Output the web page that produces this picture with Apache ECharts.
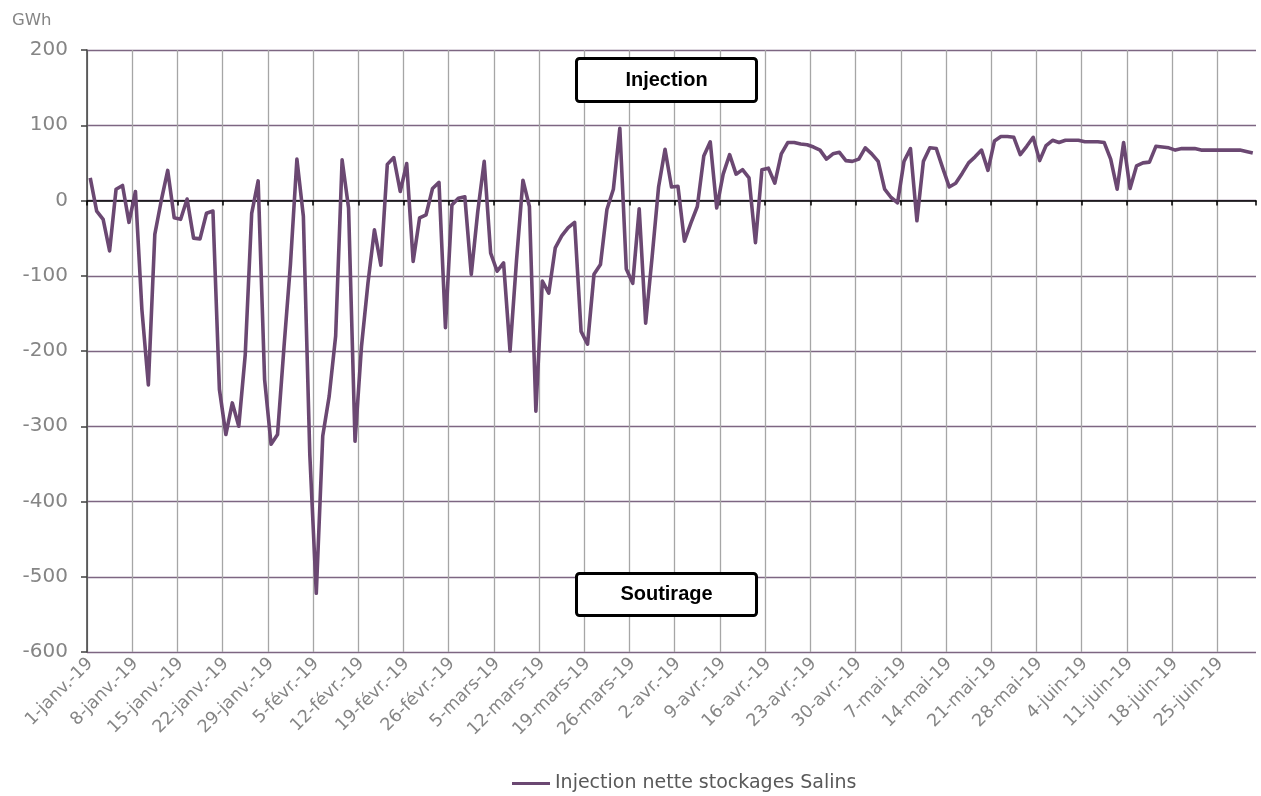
<!DOCTYPE html>
<html>
<head>
<meta charset="utf-8">
<script src="https://cdn.jsdelivr.net/npm/echarts@6/dist/echarts.min.js"></script>
<style>
  html, body { margin: 0; padding: 0; background: #fff; }
  #chart { width: 1261px; height: 796px; }
</style>
</head>
<body>
<div id="chart"></div>
<script>
// Daily calendar, 1 Jan 2019 - 30 Jun 2019
const monthNames = ['janv.', 'févr.', 'mars', 'avr.', 'mai', 'juin'];
const monthDays = [31, 28, 31, 30, 31, 30];
const yearSuffix = '19';

// Net injection into the Salins storage sites, GWh per day
const injectionNette = [
  30, -14, -25, -67, 15, 20, -29, 12, -145, -245,
  -45, 0, 40, -23, -25, 2, -50, -51, -17, -14,
  -251, -311, -269, -300, -205, -17, 26, -238, -324, -311,
  -195, -85, 55, -21, -338, -522, -313, -260, -180, 54,
  -10, -320, -194, -110, -39, -86, 48, 57, 12, 49,
  -81, -23, -19, 16, 24, -169, -6, 3, 5, -98,
  -15, 52, -70, -94, -83, -200, -80, 27, -8, -280,
  -107, -123, -63, -47, -36, -29, -174, -191, -98, -85,
  -12, 15, 96, -91, -110, -11, -163, -75, 18, 68,
  18, 19, -54, -30, -8, 59, 78, -10, 35, 61,
  35, 41, 30, -56, 41, 43, 23, 62, 77, 77,
  75, 74, 71, 67, 55, 62, 64, 53, 52, 55,
  70, 62, 52, 15, 4, -3, 52, 69, -27, 52,
  70, 69, 43, 18, 23, 36, 50, 58, 67, 40,
  79, 85, 85, 84, 61, 72, 84, 53, 73, 80,
  77, 80, 80, 80, 78, 78, 78, 77, 55, 15,
  77, 16, 46, 50, 51, 72, 71, 70, 67, 69,
  69, 69, 67, 67, 67, 67, 67, 67, 67, 65,
  63
];

const seriesName = 'Injection nette stockages Salins';
const unitLabel = 'GWh';
const yTicks = { min: -600, max: 200, step: 100 };
const weekStep = 7;

const categories = [];
monthNames.forEach(function (m, mi) {
  for (let d = 1; d <= monthDays[mi]; d++) {
    categories.push(d + '-' + m + '-' + yearSuffix);
  }
});

const weekly = function (idx) { return idx % weekStep === 0; };

const FONT = 'DejaVu Sans';
const GREY = '#858585';
const LINE = '#6b4872';

// Framed caption box drawn on top of the plot area
function captionBox(text, top, height) {
  return {
    type: 'group',
    left: 575,
    top: top,
    z: 100,
    children: [
      {
        type: 'rect',
        z: 100,
        shape: { x: 0, y: 0, width: 180, height: height, r: 3 },
        style: { fill: '#ffffff', stroke: '#000000', lineWidth: 3 }
      },
      {
        type: 'text',
        z: 101,
        x: 90, y: height / 2,
        style: {
          text: text, fill: '#000000',
          font: 'bold 20px "Liberation Sans"',
          align: 'center', verticalAlign: 'middle'
        }
      }
    ]
  };
}

const chart = echarts.init(document.getElementById('chart'), null, { renderer: 'canvas' });

chart.setOption({
  animation: false,
  backgroundColor: '#ffffff',
  grid: { left: 87, right: 5, top: 50, bottom: 144, containLabel: false },
  xAxis: [
    {
      type: 'category',
      data: categories,
      boundaryGap: true,
      position: 'bottom',
      axisLine: { show: false, onZero: false },
      axisTick: { show: false },
      axisLabel: {
        interval: weekly,
        rotate: 45,
        color: GREY,
        fontFamily: FONT,
        fontSize: 17.5,
        margin: 9
      },
      splitLine: {
        show: true,
        interval: weekly,
        showMinLine: true,
        showMaxLine: false,
        lineStyle: { color: '#a6a6a6', width: 1.3 }
      }
    },
    {
      type: 'category',
      data: categories,
      boundaryGap: true,
      position: 'bottom',
      axisLine: { show: true, onZero: true, lineStyle: { color: '#000000', width: 1.5 } },
      axisTick: { show: true, interval: weekly, length: 5, lineStyle: { color: '#000000', width: 1.5 } },
      axisLabel: { show: false },
      splitLine: { show: false }
    }
  ],
  yAxis: {
    type: 'value',
    min: yTicks.min,
    max: yTicks.max,
    interval: yTicks.step,
    axisLine: { show: true, onZero: false, lineStyle: { color: '#404040', width: 1.5 } },
    axisTick: { show: true, length: 6, lineStyle: { color: '#404040', width: 1.5 } },
    axisLabel: { color: GREY, fontFamily: FONT, fontSize: 20, margin: 19 },
    splitLine: { show: true, lineStyle: { color: '#7d6682', width: 1.3 } }
  },
  legend: {
    left: 507,
    bottom: -2,
    itemWidth: 38,
    itemHeight: 3,
    itemGap: 4,
    textStyle: { color: '#595959', fontFamily: FONT, fontSize: 19, padding: [0, 0, 0, 0] },
    data: [{ name: seriesName, icon: 'rect' }]
  },
  series: [
    {
      name: seriesName,
      type: 'line',
      xAxisIndex: 0,
      data: injectionNette,
      symbol: 'none',
      smooth: false,
      lineStyle: { color: LINE, width: 3.6, join: 'round' },
      itemStyle: { color: LINE },
      z: 5
    }
  ],
  graphic: [
    {
      type: 'text',
      left: 12,
      top: 12,
      style: { text: unitLabel, fill: GREY, font: '16.5px "' + FONT + '"' }
    },
    captionBox('Injection', 57, 43),
    captionBox('Soutirage', 572, 42)
  ]
});
</script>
</body>
</html>
